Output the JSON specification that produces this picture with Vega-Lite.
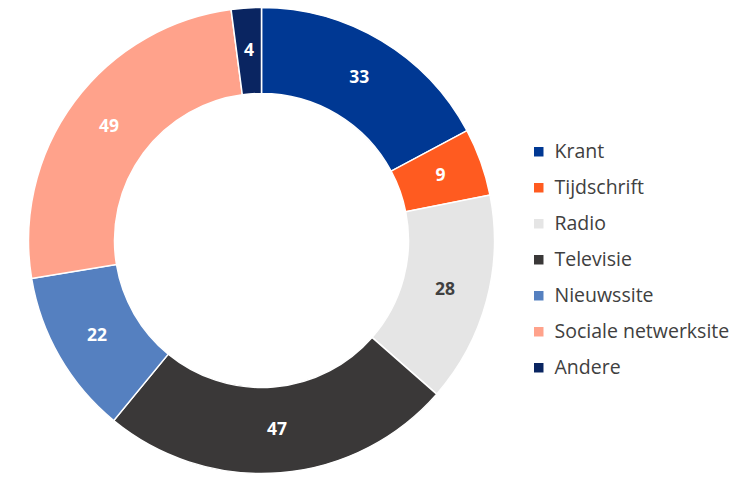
{
  "$schema": "https://vega.github.io/schema/vega-lite/v6.json",
  "width": 523,
  "height": 481,
  "padding": 0,
  "background": "white",
  "config": {"view": {"stroke": null}},
  "data": {
    "values": [
      {"medium": "Krant", "n": 33, "rank": 1},
      {"medium": "Tijdschrift", "n": 9, "rank": 2},
      {"medium": "Radio", "n": 28, "rank": 3},
      {"medium": "Televisie", "n": 47, "rank": 4},
      {"medium": "Nieuwssite", "n": 22, "rank": 5},
      {"medium": "Sociale netwerksite", "n": 49, "rank": 6},
      {"medium": "Andere", "n": 4, "rank": 7}
    ]
  },
  "encoding": {
    "theta": {"field": "n", "type": "quantitative", "stack": true},
    "order": {"field": "rank", "type": "quantitative"}
  },
  "layer": [
    {
      "mark": {"type": "arc", "outerRadius": 233, "innerRadius": 147, "stroke": "white", "strokeWidth": 1.5},
      "encoding": {
        "color": {
          "field": "medium",
          "type": "nominal",
          "sort": ["Krant", "Tijdschrift", "Radio", "Televisie", "Nieuwssite", "Sociale netwerksite", "Andere"],
          "scale": {
            "domain": ["Krant", "Tijdschrift", "Radio", "Televisie", "Nieuwssite", "Sociale netwerksite", "Andere"],
            "range": ["#003893", "#FF5B20", "#E5E5E5", "#3A3838", "#5580C0", "#FFA28B", "#0A2561"]
          },
          "legend": {
            "title": null,
            "orient": "none",
            "legendX": 529,
            "legendY": 142,
            "symbolType": "square",
            "symbolSize": 90,
            "symbolStrokeWidth": 0,
            "rowPadding": 15,
            "labelFontSize": 19.5,
            "labelFont": "Open Sans",
            "labelColor": "#404040",
            "labelOffset": 6,
            "labelLimit": 300
          }
        }
      }
    },
    {
      "mark": {"type": "text", "radius": 190, "font": "Open Sans", "fontSize": 17.5, "fontWeight": "bold"},
      "encoding": {
        "text": {"field": "n", "type": "quantitative"},
        "color": {
          "condition": {"test": "datum.medium === 'Radio'", "value": "#404040"},
          "value": "white"
        }
      }
    }
  ]
}
